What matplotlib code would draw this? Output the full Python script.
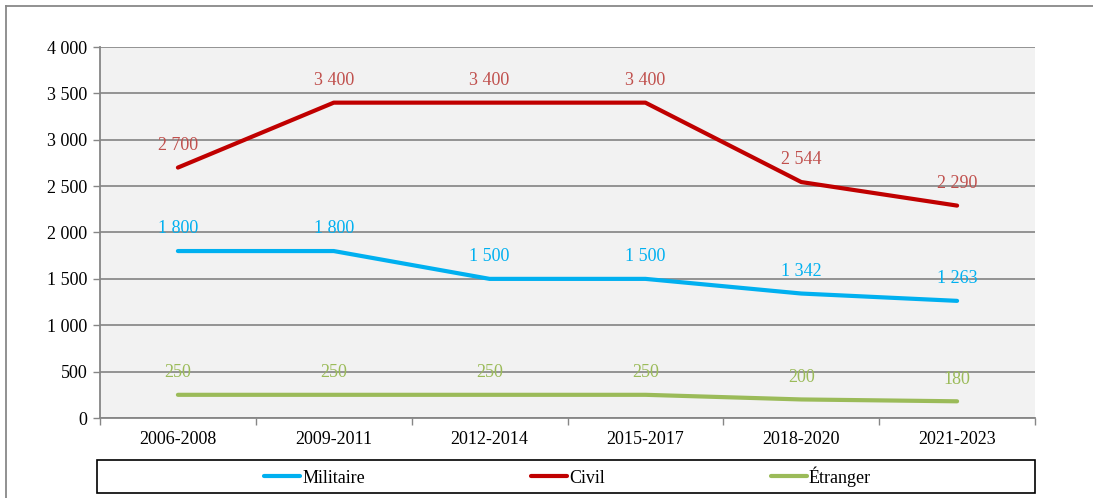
import matplotlib
matplotlib.use("Agg")
import matplotlib.pyplot as plt
from matplotlib.lines import Line2D
from matplotlib.patches import Rectangle
from matplotlib.ticker import FuncFormatter, FixedLocator

categories = ["2006-2008", "2009-2011", "2012-2014", "2015-2017", "2018-2020", "2021-2023"]
militaire = [1800, 1800, 1500, 1500, 1342, 1263]
civil = [2700, 3400, 3400, 3400, 2544, 2290]
etranger = [250, 250, 250, 250, 200, 180]

series = [
    ("Militaire", militaire, "#00B0F0", "#00B0F0"),
    ("Civil", civil, "#C00000", "#C0504D"),
    ("Étranger", etranger, "#9BBB59", "#9BBB59"),
]

plt.rcParams['font.family'] = ['Liberation Serif', 'DejaVu Serif']
fig = plt.figure(figsize=(10.93, 4.98), dpi=100)
ax = fig.add_axes([100/1093, 1-418/498, 935/1093, 371/498])
ax.set_facecolor("#F2F2F2")

x = list(range(len(categories)))
handles = []
for name, vals, lc, tc in series:
    h, = ax.plot(x, vals, color=lc, lw=3, solid_capstyle='round', solid_joinstyle='round', zorder=3)
    handles.append(h)
    for xi, v in zip(x, vals):
        ax.annotate(f"{v:,}".replace(",", " "), (xi, v), xytext=(0, 16), textcoords='offset points',
                    ha='center', va='center', color=tc, fontsize=13, zorder=4)

ax.set_xlim(-0.5, 5.5)
ax.set_ylim(0, 4000)
ax.set_yticks(range(0, 4001, 500))
ax.yaxis.set_major_formatter(FuncFormatter(lambda v, p: f"{int(v):,}".replace(",", " ")))
ax.set_xticks(x)
ax.set_xticklabels(categories)
ax.xaxis.set_minor_locator(FixedLocator([i - 0.5 for i in range(7)]))
ax.tick_params(axis='x', which='major', length=0, pad=9, labelsize=13)
ax.tick_params(axis='x', which='minor', length=5, color="#868686", width=1)
ax.tick_params(axis='y', length=5, color="#868686", width=1, labelsize=13, pad=4)
ax.grid(axis='y', color="#8C8C8C", lw=1.3, zorder=1)
ax.set_axisbelow(True)
for s in ['top', 'right']:
    ax.spines[s].set_visible(False)
for s in ['left', 'bottom']:
    ax.spines[s].set_color("#868686")
    ax.spines[s].set_linewidth(1.3)

leg = fig.legend(handles, [s[0] for s in series], loc='center', bbox_to_anchor=(567.5/1093, 1-476.5/498),
                 ncol=3, frameon=False, fontsize=13, handlelength=2.0, handletextpad=0.1,
                 columnspacing=9.2)

fig.patches.append(Rectangle((97/1093, 1-493/498), 938/1093, 33/498, transform=fig.transFigure,
                             fill=False, edgecolor='black', lw=1.2))
fig.lines.append(Line2D([6/1093, 1], [1-6/498, 1-6/498], transform=fig.transFigure, color="#888888", lw=1.3))
fig.lines.append(Line2D([6/1093, 6/1093], [0, 1-6/498], transform=fig.transFigure, color="#888888", lw=1.3))

fig.savefig("out.png", dpi=100)
